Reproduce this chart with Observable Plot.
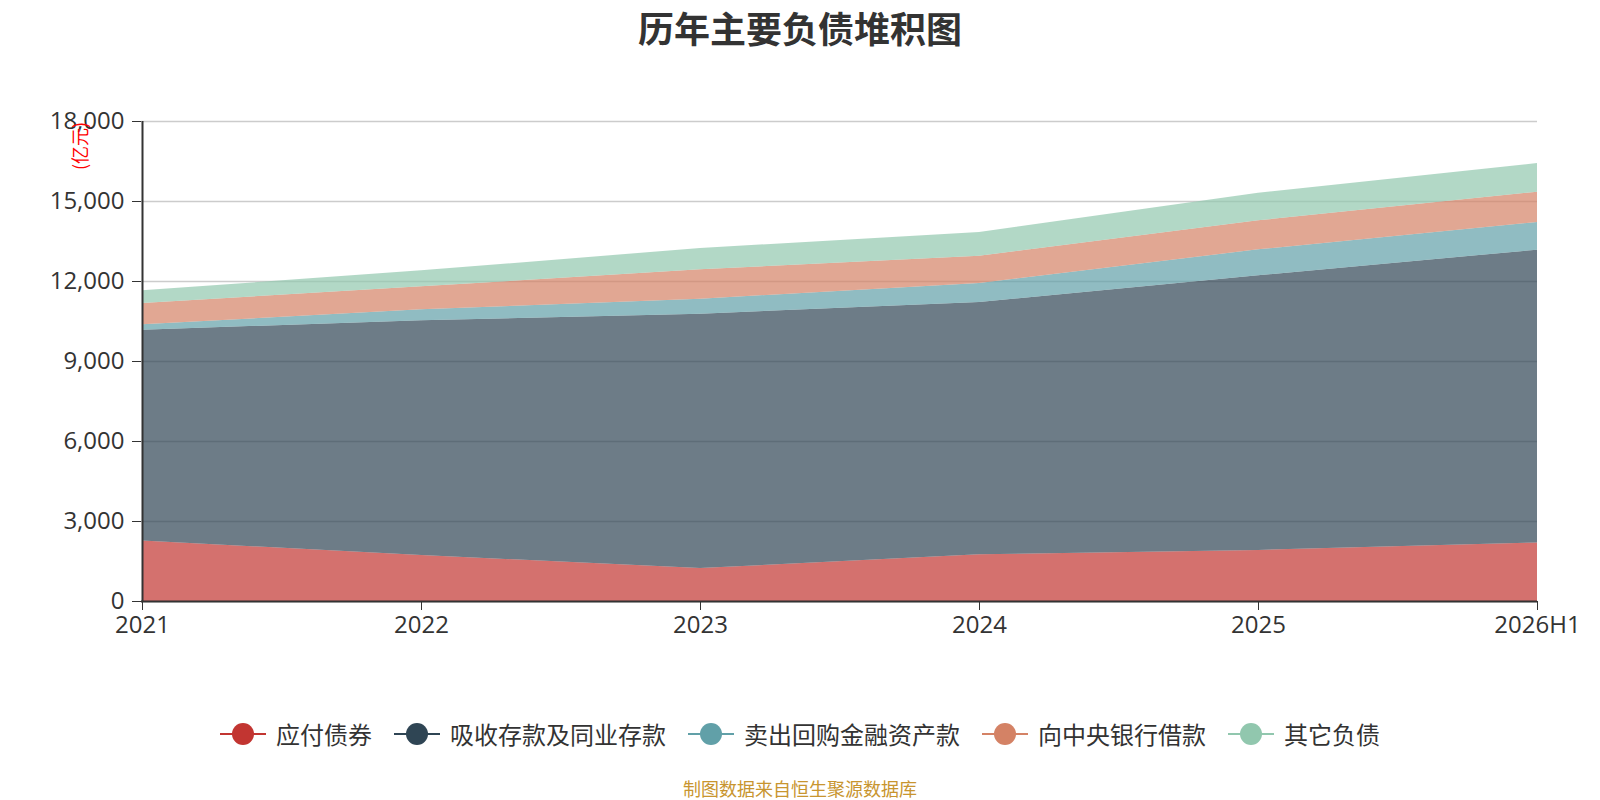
<!DOCTYPE html>
<html><head><meta charset="utf-8">
<script src="https://cdn.jsdelivr.net/npm/d3@7"></script>
<script src="https://cdn.jsdelivr.net/npm/@observablehq/plot@0.6"></script>
<style>
body{margin:0;background:#fff;font-family:"Open Sans","Noto Sans CJK SC",sans-serif;}
#wrap{position:relative;width:1600px;height:800px;overflow:hidden;background:#fff}
#title{position:absolute;top:0;left:0;width:1600px;text-align:center;font-size:36px;font-weight:bold;color:#333;line-height:54px;font-family:"Noto Sans CJK SC",sans-serif}
#chart{position:absolute;top:0;left:0}
#ylab{position:absolute;left:79px;top:146px;transform:translate(-50%,-50%) rotate(-90deg);color:#f00;font-size:18px;white-space:nowrap;font-family:"Noto Sans CJK SC",sans-serif;line-height:18px}
#legend{position:absolute;top:716px;left:0;width:1600px;display:flex;justify-content:center;align-items:center;gap:22px;font-size:24px;color:#333;font-family:"Noto Sans CJK SC",sans-serif;line-height:36px}
#legend .item{display:flex;align-items:center;gap:10px}
#caption{position:absolute;top:778px;left:0;width:1600px;text-align:center;font-size:18px;color:#c8952f;font-family:"Noto Sans CJK SC",sans-serif;line-height:20px}
</style></head>
<body>
<div id="wrap">
  <div id="title">历年主要负债堆积图</div>
  <div id="chart"></div>
  <div id="ylab">(亿元)</div>
  <div id="legend"></div>
  <div id="caption">制图数据来自恒生聚源数据库</div>
</div>
<script>
const years = ["2021","2022","2023","2024","2025","2026H1"];
const seriesNames = ["应付债券","吸收存款及同业存款","卖出回购金融资产款","向中央银行借款","其它负债"];
const bonds     = [2269, 1727, 1235, 1752, 1916, 2193];
const deposits  = [7907, 8799, 9541, 9459, 10297, 10983];
const repos     = [199, 412, 563, 713, 975, 1035];
const cbBorrow  = [799, 862, 1099, 1027, 1087, 1139];
const others    = [476, 600, 798, 885, 1038, 1074];
const colors = ["#c23531","#2f4554","#61a0a8","#d48265","#91c7ae"];
const yTicks = [0,3000,6000,9000,12000,15000,18000];

const seriesValues = [bonds, deposits, repos, cbBorrow, others];
const table = [];
seriesNames.forEach((s, si) => years.forEach((y, i) => table.push({year: y, series: s, value: seriesValues[si][i]})));

const chart = Plot.plot({
  width: 1600, height: 800,
  marginTop: 121, marginBottom: 199, marginLeft: 141, marginRight: 63,
  style: {fontFamily: "'Open Sans','Noto Sans CJK SC',sans-serif", fontSize: "24px", color: "#333", background: "transparent"},
  x: {type: "point", domain: years, padding: 0, label: null},
  y: {domain: [0, 18000], label: null},
  color: {domain: seriesNames, range: colors},
  marks: [
    Plot.gridY(yTicks, {stroke: "#ccc", strokeOpacity: 1, strokeWidth: 1.5}),
    Plot.areaY(table, {x: "year", y: "value", z: "series", fill: "series", fillOpacity: 0.7, curve: "linear"}),
    Plot.axisY(yTicks, {tickFormat: d3.format(","), tickSize: 9, tickPadding: 8, fontSize: 24, color: "#333", label: null}),
    Plot.axisX({tickSize: 9, tickPadding: 5, fontSize: 24, color: "#333", label: null}),
    Plot.ruleX([years[0]], {y1: 0, y2: 18000, stroke: "#333", strokeWidth: 2}),
    Plot.ruleY([0], {stroke: "#333", strokeWidth: 2})
  ]
});
document.getElementById("chart").appendChild(chart);

const legend = document.getElementById("legend");
seriesNames.forEach((s, i) => {
  const item = document.createElement("div");
  item.className = "item";
  item.innerHTML = `<svg width="46" height="24"><line x1="0" y1="12" x2="46" y2="12" stroke="${colors[i]}" stroke-width="2"/><circle cx="23" cy="12" r="11" fill="${colors[i]}"/></svg><span>${s}</span>`;
  legend.appendChild(item);
});
</script>
</body></html>
